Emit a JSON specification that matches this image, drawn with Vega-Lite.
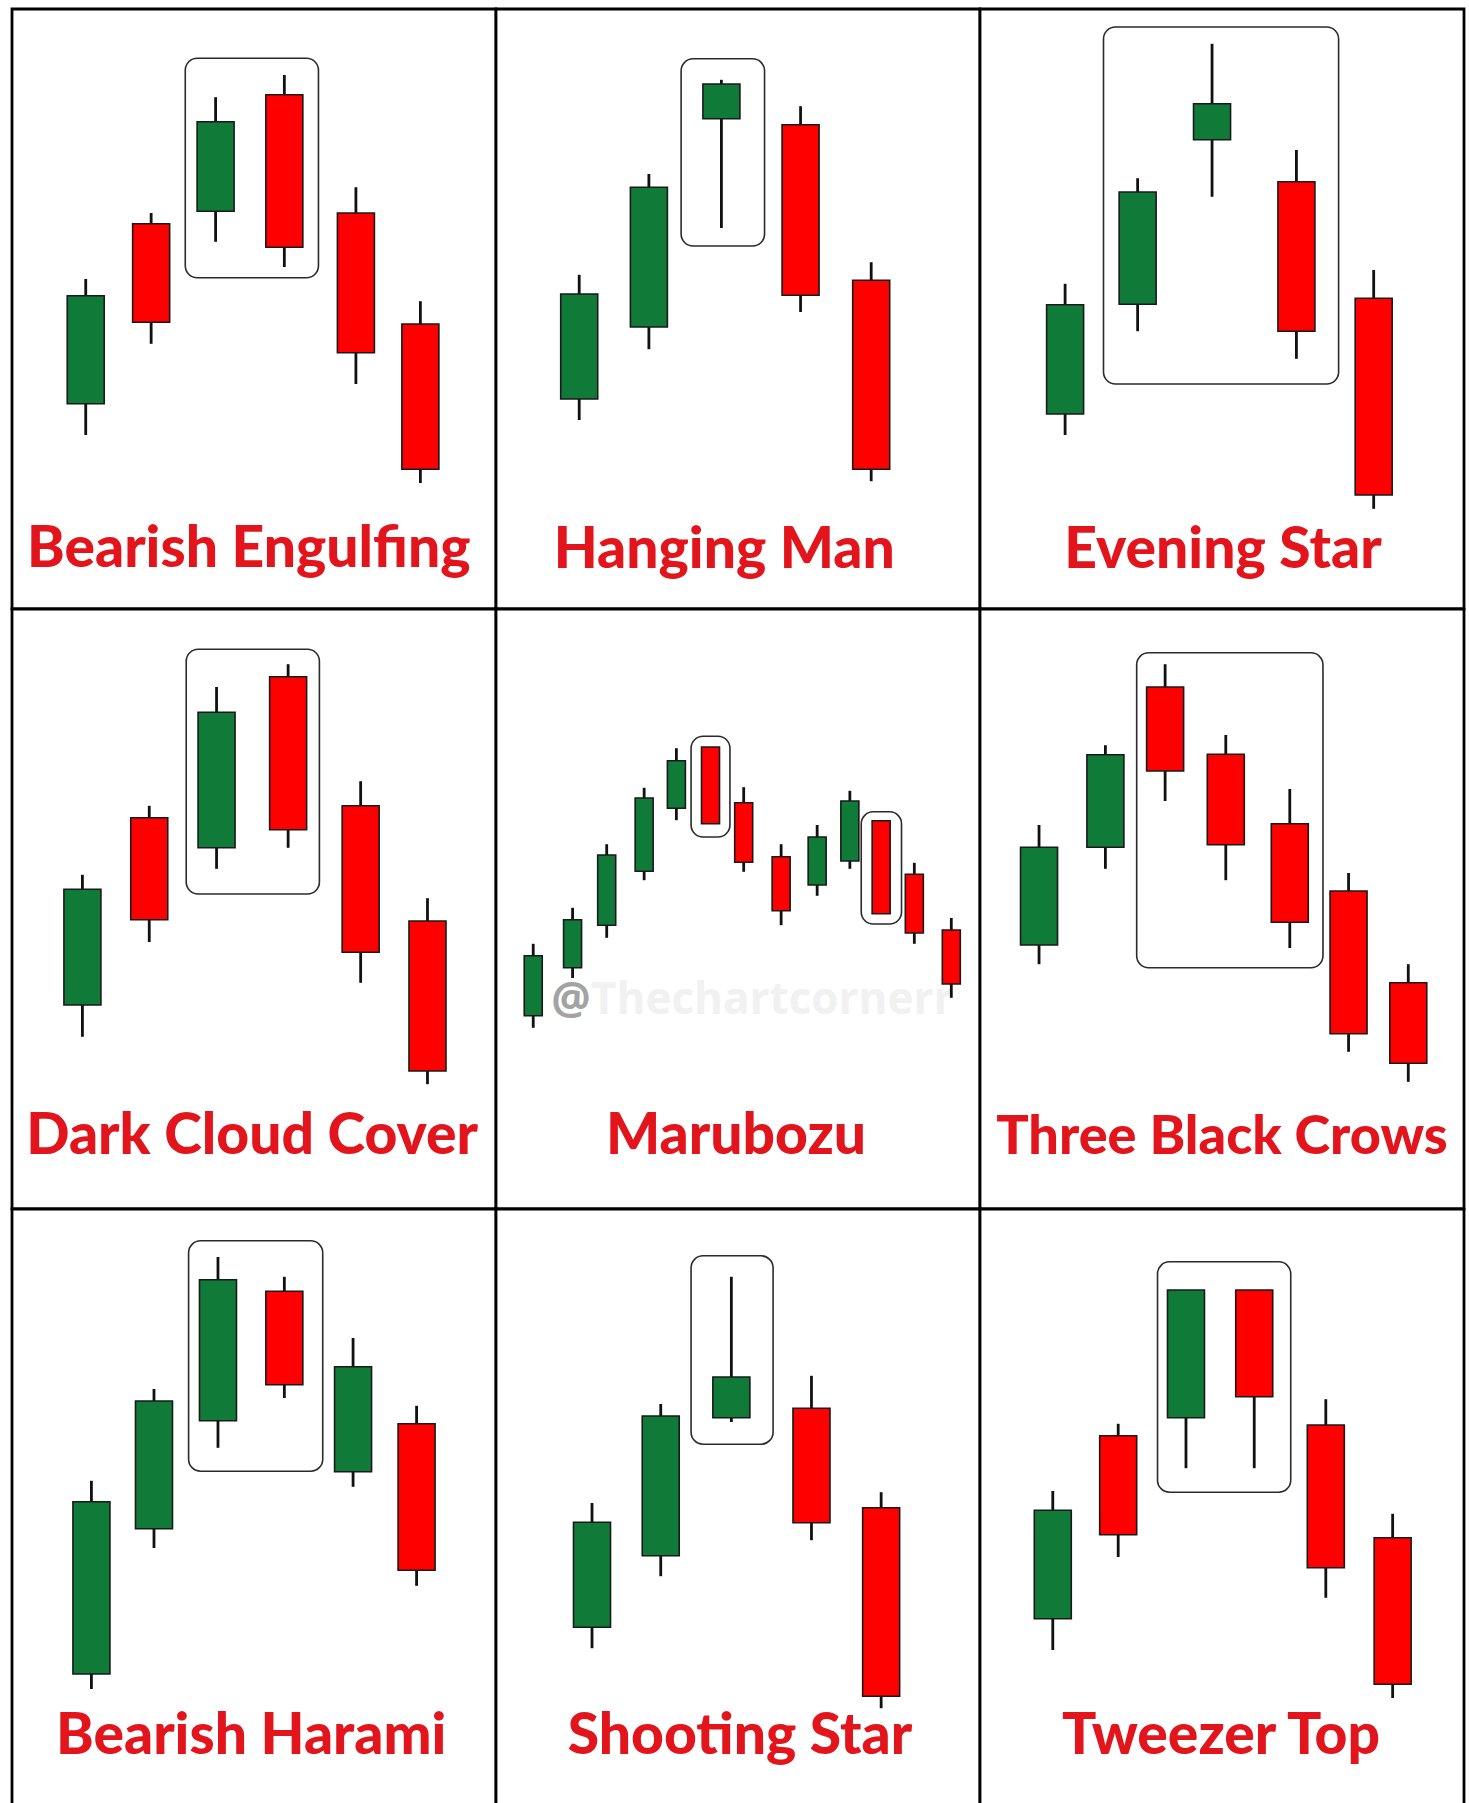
{
  "$schema": "https://vega.github.io/schema/vega-lite/v6.json",
  "padding": {"left": 10, "top": 7, "right": 0, "bottom": 0},
  "background": "white",
  "datasets": {
    "rows": [
      {"r":1,"c":1,"pattern":"Bearish Engulfing","kind":"candle","t":14.5,"open":34.2,"high":55.0,"low":29.0,"close":52.2},
      {"r":1,"c":1,"pattern":"Bearish Engulfing","kind":"candle","t":28.3,"open":64.2,"high":66.0,"low":44.2,"close":47.8},
      {"r":1,"c":1,"pattern":"Bearish Engulfing","kind":"candle","t":41.9,"open":66.3,"high":85.3,"low":61.2,"close":81.2},
      {"r":1,"c":1,"pattern":"Bearish Engulfing","kind":"candle","t":56.4,"open":85.7,"high":89.0,"low":57.0,"close":60.3},
      {"r":1,"c":1,"pattern":"Bearish Engulfing","kind":"candle","t":71.5,"open":66.0,"high":70.3,"low":37.5,"close":42.7},
      {"r":1,"c":1,"pattern":"Bearish Engulfing","kind":"candle","t":85.1,"open":47.5,"high":51.3,"low":21.0,"close":23.3},
      {"r":1,"c":1,"pattern":"Bearish Engulfing","kind":"box","t":35.5,"t2":63.6,"p":91.8,"p2":55.2},
      {"r":1,"c":1,"pattern":"Bearish Engulfing","kind":"title","t":48.9,"p":7.0,"label":"Bearish Engulfing"},

      {"r":1,"c":2,"pattern":"Hanging Man","kind":"candle","t":16.5,"open":35.0,"high":55.7,"low":31.5,"close":52.5},
      {"r":1,"c":2,"pattern":"Hanging Man","kind":"candle","t":31.2,"open":47.0,"high":72.5,"low":43.3,"close":70.3},
      {"r":1,"c":2,"pattern":"Hanging Man","kind":"candle","t":46.5,"open":81.7,"high":88.2,"low":63.5,"close":87.5},
      {"r":1,"c":2,"pattern":"Hanging Man","kind":"candle","t":63.2,"open":80.7,"high":83.8,"low":49.5,"close":52.3},
      {"r":1,"c":2,"pattern":"Hanging Man","kind":"candle","t":78.1,"open":54.8,"high":57.8,"low":21.3,"close":23.3},
      {"r":1,"c":2,"pattern":"Hanging Man","kind":"box","t":38.0,"t2":55.6,"p":91.7,"p2":60.5},
      {"r":1,"c":2,"pattern":"Hanging Man","kind":"title","t":47.1,"p":6.8,"label":"Hanging Man"},

      {"r":1,"c":3,"pattern":"Evening Star","kind":"candle","t":16.9,"open":32.5,"high":54.2,"low":29.0,"close":50.7},
      {"r":1,"c":3,"pattern":"Evening Star","kind":"candle","t":32.2,"open":50.8,"high":71.8,"low":46.3,"close":69.5},
      {"r":1,"c":3,"pattern":"Evening Star","kind":"candle","t":47.9,"open":78.2,"high":94.2,"low":68.7,"close":84.2},
      {"r":1,"c":3,"pattern":"Evening Star","kind":"candle","t":65.7,"open":71.2,"high":76.5,"low":41.7,"close":46.3},
      {"r":1,"c":3,"pattern":"Evening Star","kind":"candle","t":82.0,"open":51.8,"high":56.5,"low":16.7,"close":19.0},
      {"r":1,"c":3,"pattern":"Evening Star","kind":"box","t":25.0,"t2":74.6,"p":97.0,"p2":37.5},
      {"r":1,"c":3,"pattern":"Evening Star","kind":"title","t":50.2,"p":6.8,"label":"Evening Star"},

      {"r":2,"c":1,"pattern":"Dark Cloud Cover","kind":"candle","t":13.8,"open":34.0,"high":55.7,"low":28.7,"close":53.3},
      {"r":2,"c":1,"pattern":"Dark Cloud Cover","kind":"candle","t":27.9,"open":65.2,"high":67.2,"low":44.5,"close":48.2},
      {"r":2,"c":1,"pattern":"Dark Cloud Cover","kind":"candle","t":42.1,"open":60.2,"high":87.0,"low":56.7,"close":82.8},
      {"r":2,"c":1,"pattern":"Dark Cloud Cover","kind":"candle","t":57.2,"open":88.7,"high":90.8,"low":60.2,"close":63.2},
      {"r":2,"c":1,"pattern":"Dark Cloud Cover","kind":"candle","t":72.5,"open":67.2,"high":71.3,"low":37.7,"close":42.8},
      {"r":2,"c":1,"pattern":"Dark Cloud Cover","kind":"candle","t":86.6,"open":48.0,"high":51.8,"low":20.8,"close":23.0},
      {"r":2,"c":1,"pattern":"Dark Cloud Cover","kind":"box","t":35.7,"t2":63.8,"p":93.3,"p2":52.5},
      {"r":2,"c":1,"pattern":"Dark Cloud Cover","kind":"title","t":49.6,"p":9.2,"label":"Dark Cloud Cover"},

      {"r":2,"c":2,"pattern":"Marubozu","kind":"candle","t":6.8,"open":32.2,"high":44.2,"low":30.2,"close":42.2},
      {"r":2,"c":2,"pattern":"Marubozu","kind":"candle","t":15.1,"open":40.2,"high":50.2,"low":38.5,"close":48.2},
      {"r":2,"c":2,"pattern":"Marubozu","kind":"candle","t":22.3,"open":47.3,"high":60.8,"low":45.2,"close":59.0},
      {"r":2,"c":2,"pattern":"Marubozu","kind":"candle","t":30.2,"open":56.3,"high":70.2,"low":54.8,"close":68.5},
      {"r":2,"c":2,"pattern":"Marubozu","kind":"candle","t":37.0,"open":66.8,"high":76.8,"low":64.8,"close":74.7},
      {"r":2,"c":2,"pattern":"Marubozu","kind":"candle","t":44.2,"open":77.0,"high":77.0,"low":64.2,"close":64.2},
      {"r":2,"c":2,"pattern":"Marubozu","kind":"candle","t":51.2,"open":67.7,"high":70.3,"low":56.2,"close":57.8},
      {"r":2,"c":2,"pattern":"Marubozu","kind":"candle","t":59.1,"open":58.7,"high":60.8,"low":47.3,"close":49.7},
      {"r":2,"c":2,"pattern":"Marubozu","kind":"candle","t":66.7,"open":54.0,"high":64.0,"low":52.2,"close":62.0},
      {"r":2,"c":2,"pattern":"Marubozu","kind":"candle","t":73.6,"open":58.0,"high":69.7,"low":56.7,"close":68.0},
      {"r":2,"c":2,"pattern":"Marubozu","kind":"candle","t":80.2,"open":64.7,"high":64.7,"low":49.2,"close":49.2},
      {"r":2,"c":2,"pattern":"Marubozu","kind":"candle","t":87.2,"open":55.8,"high":57.7,"low":44.2,"close":46.0},
      {"r":2,"c":2,"pattern":"Marubozu","kind":"candle","t":95.0,"open":46.5,"high":48.5,"low":35.2,"close":37.5},
      {"r":2,"c":2,"pattern":"Marubozu","kind":"box","t":40.1,"t2":48.3,"p":78.8,"p2":62.0},
      {"r":2,"c":2,"pattern":"Marubozu","kind":"box","t":76.0,"t2":84.5,"p":66.2,"p2":47.5},
      {"r":2,"c":2,"pattern":"Marubozu","kind":"title","t":49.6,"p":9.2,"label":"Marubozu"},
      {"r":2,"c":2,"pattern":"Marubozu","kind":"wm","t":10.6,"p":32.5,"label":"@"},
      {"r":2,"c":2,"pattern":"Marubozu","kind":"wm","t":19.0,"p":32.5,"label":"Thechartcornerr"},

      {"r":2,"c":3,"pattern":"Three Black Crows","kind":"candle","t":11.4,"open":44.0,"high":64.0,"low":40.8,"close":60.3},
      {"r":2,"c":3,"pattern":"Three Black Crows","kind":"candle","t":25.4,"open":60.3,"high":77.3,"low":56.7,"close":75.7},
      {"r":2,"c":3,"pattern":"Three Black Crows","kind":"candle","t":38.0,"open":87.0,"high":90.8,"low":68.0,"close":73.0},
      {"r":2,"c":3,"pattern":"Three Black Crows","kind":"candle","t":50.8,"open":75.8,"high":79.0,"low":54.8,"close":60.7},
      {"r":2,"c":3,"pattern":"Three Black Crows","kind":"candle","t":64.3,"open":64.2,"high":70.0,"low":43.5,"close":47.8},
      {"r":2,"c":3,"pattern":"Three Black Crows","kind":"candle","t":76.7,"open":53.0,"high":56.0,"low":26.2,"close":29.2},
      {"r":2,"c":3,"pattern":"Three Black Crows","kind":"candle","t":89.3,"open":37.7,"high":40.8,"low":21.2,"close":24.3},
      {"r":2,"c":3,"pattern":"Three Black Crows","kind":"box","t":32.0,"t2":71.3,"p":92.7,"p2":40.2},
      {"r":2,"c":3,"pattern":"Three Black Crows","kind":"title","t":50.0,"p":9.2,"label":"Three Black Crows"},

      {"r":3,"c":1,"pattern":"Bearish Harami","kind":"candle","t":15.7,"open":22.5,"high":54.7,"low":20.0,"close":51.2},
      {"r":3,"c":1,"pattern":"Bearish Harami","kind":"candle","t":28.9,"open":46.7,"high":70.0,"low":43.5,"close":68.0},
      {"r":3,"c":1,"pattern":"Bearish Harami","kind":"candle","t":42.4,"open":64.7,"high":92.0,"low":60.2,"close":88.2},
      {"r":3,"c":1,"pattern":"Bearish Harami","kind":"candle","t":56.4,"open":86.3,"high":88.7,"low":68.5,"close":70.7},
      {"r":3,"c":1,"pattern":"Bearish Harami","kind":"candle","t":70.9,"open":56.2,"high":78.5,"low":53.7,"close":73.7},
      {"r":3,"c":1,"pattern":"Bearish Harami","kind":"candle","t":84.3,"open":64.2,"high":67.2,"low":37.2,"close":39.8},
      {"r":3,"c":1,"pattern":"Bearish Harami","kind":"box","t":36.2,"t2":64.5,"p":94.7,"p2":56.3},
      {"r":3,"c":1,"pattern":"Bearish Harami","kind":"title","t":49.4,"p":9.2,"label":"Bearish Harami"},

      {"r":3,"c":2,"pattern":"Shooting Star","kind":"candle","t":19.2,"open":30.3,"high":51.0,"low":26.8,"close":47.8},
      {"r":3,"c":2,"pattern":"Shooting Star","kind":"candle","t":33.7,"open":42.2,"high":67.5,"low":38.8,"close":65.5},
      {"r":3,"c":2,"pattern":"Shooting Star","kind":"candle","t":48.6,"open":65.2,"high":88.7,"low":64.5,"close":72.0},
      {"r":3,"c":2,"pattern":"Shooting Star","kind":"candle","t":65.5,"open":66.8,"high":72.2,"low":44.8,"close":47.7},
      {"r":3,"c":2,"pattern":"Shooting Star","kind":"candle","t":80.2,"open":50.2,"high":52.8,"low":16.8,"close":18.8},
      {"r":3,"c":2,"pattern":"Shooting Star","kind":"box","t":40.1,"t2":57.4,"p":92.2,"p2":60.8},
      {"r":3,"c":2,"pattern":"Shooting Star","kind":"title","t":50.4,"p":9.2,"label":"Shooting Star"},

      {"r":3,"c":3,"pattern":"Tweezer Top","kind":"candle","t":14.3,"open":31.7,"high":53.0,"low":26.5,"close":49.8},
      {"r":3,"c":3,"pattern":"Tweezer Top","kind":"candle","t":28.1,"open":62.2,"high":64.2,"low":42.0,"close":45.7},
      {"r":3,"c":3,"pattern":"Tweezer Top","kind":"candle","t":42.4,"open":65.2,"high":86.5,"low":56.8,"close":86.5},
      {"r":3,"c":3,"pattern":"Tweezer Top","kind":"candle","t":56.8,"open":86.5,"high":86.5,"low":56.8,"close":68.7},
      {"r":3,"c":3,"pattern":"Tweezer Top","kind":"candle","t":71.9,"open":64.0,"high":68.3,"low":35.2,"close":40.2},
      {"r":3,"c":3,"pattern":"Tweezer Top","kind":"candle","t":86.0,"open":45.2,"high":49.2,"low":18.5,"close":20.8},
      {"r":3,"c":3,"pattern":"Tweezer Top","kind":"box","t":36.4,"t2":64.5,"p":91.2,"p2":52.8},
      {"r":3,"c":3,"pattern":"Tweezer Top","kind":"title","t":49.8,"p":9.2,"label":"Tweezer Top"}
    ]
  },
  "data": {"name": "rows"},
  "facet": {
    "row": {"field": "r", "type": "ordinal", "header": null},
    "column": {"field": "c", "type": "ordinal", "header": null}
  },
  "spacing": 0,
  "bounds": "flush",
  "spec": {
    "width": 484,
    "height": 600,
    "layer": [
      {
        "transform": [{"filter": "datum.kind == 'wm'"}],
        "mark": {"type": "text", "align": "left", "baseline": "alphabetic", "font": "Open Sans", "fontWeight": "bold", "fontSize": 44},
        "encoding": {
          "x": {"field": "t", "type": "quantitative", "scale": {"domain": [0, 100]}, "axis": null},
          "y": {"field": "p", "type": "quantitative", "scale": {"domain": [0, 100]}, "axis": null},
          "text": {"field": "label"},
          "color": {"condition": {"test": "datum.label == '@'", "value": "#a3a3a3"}, "value": "#f1f1f1"}
        }
      },
      {
        "transform": [{"filter": "datum.kind == 'candle'"}],
        "mark": {"type": "rule", "color": "#111111", "strokeWidth": 2.8},
        "encoding": {
          "x": {"field": "t", "type": "quantitative", "scale": {"domain": [0, 100]}, "axis": null},
          "y": {"field": "low", "type": "quantitative", "scale": {"domain": [0, 100]}, "axis": null},
          "y2": {"field": "high"}
        }
      },
      {
        "transform": [{"filter": "datum.kind == 'candle'"}],
        "mark": {"type": "bar", "stroke": "#1a1a1a", "strokeWidth": 1.6},
        "encoding": {
          "x": {"field": "t", "type": "quantitative", "scale": {"domain": [0, 100]}, "axis": null},
          "y": {"field": "open", "type": "quantitative", "scale": {"domain": [0, 100]}, "axis": null},
          "y2": {"field": "close"},
          "color": {"condition": {"test": "datum.close > datum.open", "value": "#107a39"}, "value": "#ff0000"},
          "size": {"condition": {"test": "datum.pattern == 'Marubozu'", "value": 18}, "value": 37}
        }
      },
      {
        "transform": [{"filter": "datum.kind == 'box'"}],
        "mark": {"type": "rect", "fill": null, "fillOpacity": 0, "stroke": "#2b2b2b", "strokeWidth": 1.6, "cornerRadius": 12},
        "encoding": {
          "x": {"field": "t", "type": "quantitative", "scale": {"domain": [0, 100]}, "axis": null},
          "x2": {"field": "t2"},
          "y": {"field": "p", "type": "quantitative", "scale": {"domain": [0, 100]}, "axis": null},
          "y2": {"field": "p2"}
        }
      },
      {
        "transform": [{"filter": "datum.kind == 'title'"}],
        "mark": {"type": "text", "align": "center", "baseline": "alphabetic", "font": "Lato", "fontWeight": 900, "color": "#e2151d"},
        "encoding": {
          "x": {"field": "t", "type": "quantitative", "scale": {"domain": [0, 100]}, "axis": null},
          "y": {"field": "p", "type": "quantitative", "scale": {"domain": [0, 100]}, "axis": null},
          "text": {"field": "label"},
          "size": {"condition": {"test": "datum.label == 'Three Black Crows'", "value": 54}, "value": 57}
        }
      }
    ]
  },
  "config": {
    "view": {"stroke": "#000000", "strokeWidth": 2.8, "fill": "white"}
  }
}
